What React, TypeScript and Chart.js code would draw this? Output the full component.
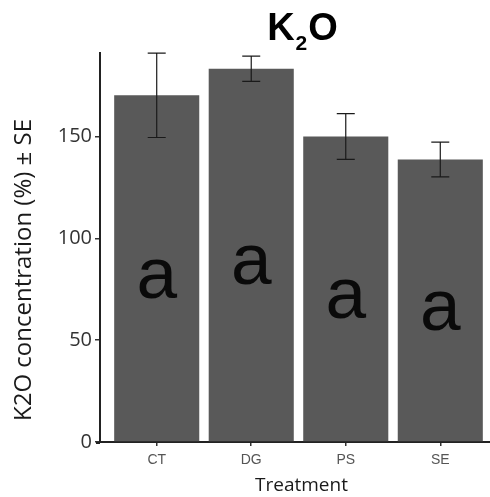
import React, { useEffect, useRef } from "react";
import { Chart, registerables } from "chart.js";

Chart.register(...registerables);

// ---- data ----
const categories = ["CT", "DG", "PS", "SE"];
const means = [170.2, 183.3, 150.0, 138.7];
const errors = [20.7, 6.2, 11.2, 8.5];
const letters = ["a", "a", "a", "a"];
const yTicks = [0, 50, 100, 150];
const yMin = 0;
const yMax = 191;
const xMin = 0.4;
const xMax = 4.6;
const xPositions = [1, 2, 3, 4];
const yTitle = "K2O concentration (%) ± SE";
const xTitle = "Treatment";

const overlay = {
  id: "overlay",
  afterDatasetsDraw(chart: any) {
    const { ctx, scales, chartArea } = chart;
    const x = scales.x;
    const y = scales.y;
    ctx.save();
    // small extension of x axis line to the left of the y axis (ggplot style)
    ctx.strokeStyle = "#222222";
    ctx.lineWidth = 2;
    ctx.beginPath();
    ctx.moveTo(chartArea.left - 4, chartArea.bottom + 1);
    ctx.lineTo(chartArea.left, chartArea.bottom + 1);
    ctx.stroke();
    // error bars
    ctx.strokeStyle = "#1a1a1a";
    ctx.lineWidth = 1.2;
    means.forEach((m, i) => {
      const px = x.getPixelForValue(xPositions[i]);
      const top = y.getPixelForValue(m + errors[i]);
      const bot = y.getPixelForValue(m - errors[i]);
      const hw = 9;
      ctx.beginPath();
      ctx.moveTo(px, top);
      ctx.lineTo(px, bot);
      ctx.moveTo(px - hw, top);
      ctx.lineTo(px + hw, top);
      ctx.moveTo(px - hw, bot);
      ctx.lineTo(px + hw, bot);
      ctx.stroke();
    });
    // significance letters
    ctx.fillStyle = "#0a0a0a";
    ctx.font = "73px 'Liberation Sans', Arial, sans-serif";
    ctx.textAlign = "center";
    ctx.textBaseline = "alphabetic";
    means.forEach((m, i) => {
      ctx.fillText(letters[i], x.getPixelForValue(xPositions[i]), y.getPixelForValue(m / 2) + 29);
    });
    ctx.restore();
  },
  afterDraw(chart: any) {
    const { ctx, chartArea } = chart;
    ctx.save();
    // Title K2O with subscript
    const big = "bold 38px 'Liberation Sans', Arial, sans-serif";
    const small = "bold 21px 'Liberation Sans', Arial, sans-serif";
    ctx.fillStyle = "#000";
    ctx.textBaseline = "alphabetic";
    ctx.textAlign = "left";
    ctx.font = big;
    const wK = ctx.measureText("K").width;
    const wO = ctx.measureText("O").width;
    ctx.font = small;
    const w2 = ctx.measureText("2").width;
    const gap = 1;
    const total = wK + gap + w2 + gap + wO;
    const cx = (chartArea.left + chartArea.right) / 2 + 4;
    let sx = cx - total / 2;
    ctx.font = big;
    ctx.fillText("K", sx, 40);
    sx += wK + gap;
    ctx.font = small;
    ctx.fillText("2", sx, 50);
    sx += w2 + gap;
    ctx.font = big;
    ctx.fillText("O", sx, 40);

    // Y axis title
    ctx.fillStyle = "#1a1a1a";
    ctx.font = "24px 'Open Sans', sans-serif";
    ctx.translate(31, 270);
    ctx.rotate(-Math.PI / 2);
    ctx.textAlign = "center";
    ctx.textBaseline = "alphabetic";
    ctx.fillText(yTitle, 0, 0);
    ctx.setTransform(1, 0, 0, 1, 0, 0);

    // X axis title
    ctx.font = "19px 'Open Sans', sans-serif";
    ctx.textAlign = "center";
    ctx.fillText(xTitle, cx - 1, 491);
    ctx.restore();
  },
};

export default function App() {
  const ref = useRef<HTMLCanvasElement>(null);
  useEffect(() => {
    if (!ref.current) return;
    const chart = new Chart(ref.current, {
      type: "bar",
      data: {
        datasets: [
          {
            data: means.map((m, i) => ({ x: xPositions[i], y: m })),
            backgroundColor: "#595959",
            borderWidth: 0,
            categoryPercentage: 1,
            barPercentage: 0.9,
          } as any,
        ],
      },
      options: {
        responsive: false,
        animation: false,
        devicePixelRatio: 1,
        layout: { padding: { top: 53, left: 0, right: 0, bottom: 0 } },
        plugins: {
          legend: { display: false },
          tooltip: { enabled: false },
          title: { display: false },
        },
        scales: {
          x: {
            type: "linear",
            min: xMin,
            max: xMax,
            offset: false,
            afterBuildTicks: (scale: any) => {
              scale.ticks = xPositions.map((v) => ({ value: v }));
            },
            afterFit: (scale: any) => {
              scale.height = 55;
            },
            ticks: {
              callback: (v: any) => categories[xPositions.indexOf(Number(v))] ?? "",
              color: "#555555",
              font: { family: "'Liberation Sans', Arial, sans-serif", size: 14 },
              padding: 6,
              maxRotation: 0,
              autoSkip: false,
            },
            grid: {
              offset: false,
              drawOnChartArea: false,
              drawTicks: true,
              tickLength: 4,
              color: "#333333",
              lineWidth: 1.5,
            },
            border: { display: true, color: "#222222", width: 2 },
          },
          y: {
            type: "linear",
            min: yMin,
            max: yMax,
            afterBuildTicks: (scale: any) => {
              scale.ticks = yTicks.map((v) => ({ value: v }));
            },
            afterFit: (scale: any) => {
              scale.width = 100;
            },
            ticks: {
              color: "#333333",
              font: { family: "'Open Sans', sans-serif", size: 20 },
              padding: 3,
            },
            grid: {
              drawOnChartArea: false,
              drawTicks: true,
              tickLength: 5,
              color: "#333333",
              lineWidth: 1.5,
            },
            border: { display: true, color: "#222222", width: 2 },
          },
        },
      },
      plugins: [overlay],
    });
    return () => chart.destroy();
  }, []);

  return (
    <div
      style={{
        position: "fixed",
        left: 0,
        top: 0,
        width: 490,
        height: 497,
        overflow: "hidden",
        background: "#ffffff",
      }}
    >
      <canvas ref={ref} width={497} height={497} style={{ display: "block", width: 497, height: 497 }} />
    </div>
  );
}
